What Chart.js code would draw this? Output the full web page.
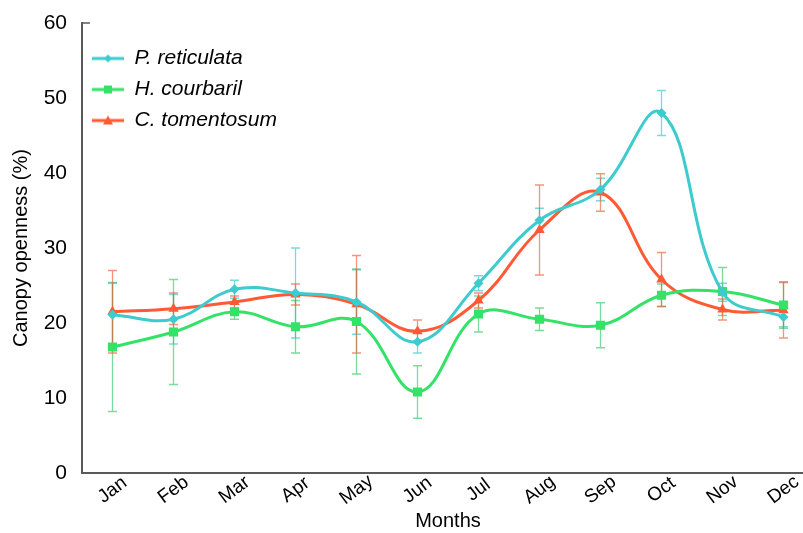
<!DOCTYPE html>
<html>
<head>
<meta charset="utf-8">
<script src="https://cdn.jsdelivr.net/npm/chart.js@4/dist/chart.umd.min.js"></script>
<style>
  html, body { margin: 0; padding: 0; background: #ffffff; overflow: hidden; }
  #wrap { width: 830px; height: 533px; }
</style>
</head>
<body>
<div id="wrap"><canvas id="c" width="830" height="533"></canvas></div>
<script>
// Monthly canopy openness (%) with ± error per species
const months = ['Jan', 'Feb', 'Mar', 'Apr', 'May', 'Jun', 'Jul', 'Aug', 'Sep', 'Oct', 'Nov', 'Dec'];

const reticulata    = [21.1, 20.5, 24.5, 24.0, 22.8, 17.5, 25.3, 33.7, 37.8, 48.0, 24.1, 20.8];
const reticulataErr = [4.2, 3.3, 1.2, 6.0, 4.3, 1.5, 1.0, 1.6, 1.5, 3.0, 1.2, 1.3];

const courbaril     = [16.8, 18.8, 21.5, 19.5, 20.2, 10.8, 21.2, 20.5, 19.7, 23.7, 24.2, 22.4];
const courbarilErr  = [8.6, 7.0, 1.0, 3.5, 7.0, 3.5, 2.4, 1.5, 3.0, 1.5, 3.2, 3.1];

const tomentosum    = [21.5, 21.9, 22.8, 23.8, 22.5, 18.9, 23.0, 32.4, 37.4, 25.8, 21.8, 21.7];
const tomentosumErr = [5.5, 2.1, 0.8, 1.4, 6.5, 1.5, 1.0, 6.0, 2.5, 3.6, 1.4, 3.7];

const yTicks = [0, 10, 20, 30, 40, 50, 60];

const FONT = "'Liberation Sans', Arial, Helvetica, sans-serif";
const CYAN = '#3ecbcd';
const GREEN = '#34e268';
const ORANGE = '#ff5a35';

// Legend swatch: short line with the series marker in its middle
function swatch(color, shape) {
  const cv = document.createElement('canvas');
  cv.width = 32; cv.height = 14;
  const g = cv.getContext('2d');
  g.strokeStyle = color; g.lineWidth = 3;
  g.beginPath(); g.moveTo(0, 7); g.lineTo(32, 7); g.stroke();
  g.fillStyle = color;
  g.beginPath();
  if (shape === 'diamond') {
    g.moveTo(16, 3); g.lineTo(20, 7); g.lineTo(16, 11); g.lineTo(12, 7);
  } else if (shape === 'square') {
    g.rect(12, 3, 8, 8);
  } else {
    g.moveTo(16, 2); g.lineTo(21, 11); g.lineTo(11, 11);
  }
  g.closePath(); g.fill();
  return cv;
}

const legendIcons = [swatch(CYAN, 'diamond'), swatch(GREEN, 'square'), swatch(ORANGE, 'triangle')];

// Vertical error bars with caps, drawn under the lines
const errorBars = {
  id: 'errorBars',
  beforeDatasetsDraw(chart) {
    const { ctx, scales: { x, y } } = chart;
    chart.data.datasets.forEach((ds) => {
      ctx.save();
      ctx.strokeStyle = ds.errorColor;
      ctx.lineWidth = 1.3;
      ds.errors.forEach((e, j) => {
        const px = x.getPixelForValue(j);
        const top = y.getPixelForValue(ds.data[j] + e);
        const bot = y.getPixelForValue(ds.data[j] - e);
        ctx.beginPath();
        ctx.moveTo(px, top); ctx.lineTo(px, bot);
        ctx.moveTo(px - 4.5, top); ctx.lineTo(px + 4.5, top);
        ctx.moveTo(px - 4.5, bot); ctx.lineTo(px + 4.5, bot);
        ctx.stroke();
      });
      ctx.restore();
    });
  }
};

// Slanted month labels centred on each category, plus the small tick at the top of the value axis
const axisDecor = {
  id: 'axisDecor',
  afterDraw(chart) {
    const { ctx, scales: { x, y } } = chart;
    ctx.save();
    ctx.fillStyle = '#000000';
    ctx.font = '19px ' + FONT;
    ctx.textAlign = 'center';
    ctx.textBaseline = 'middle';
    months.forEach((m, i) => {
      const px = x.getPixelForTick(i);
      ctx.save();
      ctx.translate(px, x.top + 17);
      ctx.rotate(-37 * Math.PI / 180);
      ctx.fillText(m, 0, 0);
      ctx.restore();
    });
    const yt = y.getPixelForValue(60);
    ctx.strokeStyle = '#5a5a5a';
    ctx.lineWidth = 1.5;
    ctx.beginPath();
    ctx.moveTo(y.right, yt);
    ctx.lineTo(y.right + 8, yt);
    ctx.stroke();
    ctx.restore();
  }
};

const common = { borderWidth: 3, tension: 0.4, fill: false, pointBorderWidth: 0 };

new Chart(document.getElementById('c'), {
  type: 'line',
  data: {
    labels: months,
    datasets: [
      Object.assign({}, common, {
        label: 'P. reticulata', data: reticulata, errors: reticulataErr,
        borderColor: CYAN, backgroundColor: CYAN, errorColor: 'rgba(62,203,205,0.7)',
        pointStyle: 'rectRot', pointRadius: 5
      }),
      Object.assign({}, common, {
        label: 'H. courbaril', data: courbaril, errors: courbarilErr,
        borderColor: GREEN, backgroundColor: GREEN, errorColor: 'rgba(52,200,100,0.65)',
        pointStyle: 'rect', pointRadius: 6.5
      }),
      Object.assign({}, common, {
        label: 'C. tomentosum', data: tomentosum, errors: tomentosumErr,
        borderColor: ORANGE, backgroundColor: ORANGE, errorColor: 'rgba(240,90,55,0.65)',
        pointStyle: 'triangle', pointRadius: 6
      })
    ]
  },
  options: {
    responsive: false,
    animation: false,
    devicePixelRatio: 1,
    layout: { padding: { top: 23, right: 16, bottom: 0, left: 0 } },
    plugins: {
      tooltip: { enabled: false },
      legend: {
        position: 'chartArea',
        align: 'start',
        title: { display: true, text: '', font: { size: 10 }, padding: { top: 26, bottom: 0 } },
        labels: {
          usePointStyle: true,
          pointStyleWidth: 32,
          padding: 10,
          color: '#000000',
          font: { family: FONT, size: 21, style: 'italic' },
          generateLabels: (chart) => chart.data.datasets.map((ds, i) => ({
            text: ds.label,
            pointStyle: legendIcons[i],
            fillStyle: ds.borderColor,
            strokeStyle: ds.borderColor,
            fontColor: '#000000',
            lineWidth: 0,
            datasetIndex: i
          }))
        }
      }
    },
    scales: {
      x: {
        type: 'category',
        offset: true,
        grid: { display: false, drawTicks: false },
        border: { display: true, color: '#5a5a5a', width: 2 },
        ticks: { display: false },
        title: {
          display: true, text: 'Months', color: '#000000',
          font: { family: FONT, size: 20 }, padding: { top: 0, bottom: 0 }
        },
        afterFit(scale) { scale.height = 60; }
      },
      y: {
        min: 0, max: 60,
        grid: { display: false, drawTicks: false },
        border: { display: true, color: '#5a5a5a', width: 2 },
        afterBuildTicks(scale) { scale.ticks = yTicks.map(v => ({ value: v })); },
        ticks: {
          color: '#000000', padding: 15,
          font: { family: FONT, size: 21 }
        },
        title: {
          display: true, text: 'Canopy openness (%)', color: '#000000',
          font: { family: FONT, size: 20 }, padding: { top: 9, bottom: 0 }
        },
        afterFit(scale) {
          scale.width = 82;
          scale.paddingTop = 0;
          scale.paddingBottom = 0;
        }
      }
    }
  },
  plugins: [errorBars, axisDecor]
});
</script>
</body>
</html>
